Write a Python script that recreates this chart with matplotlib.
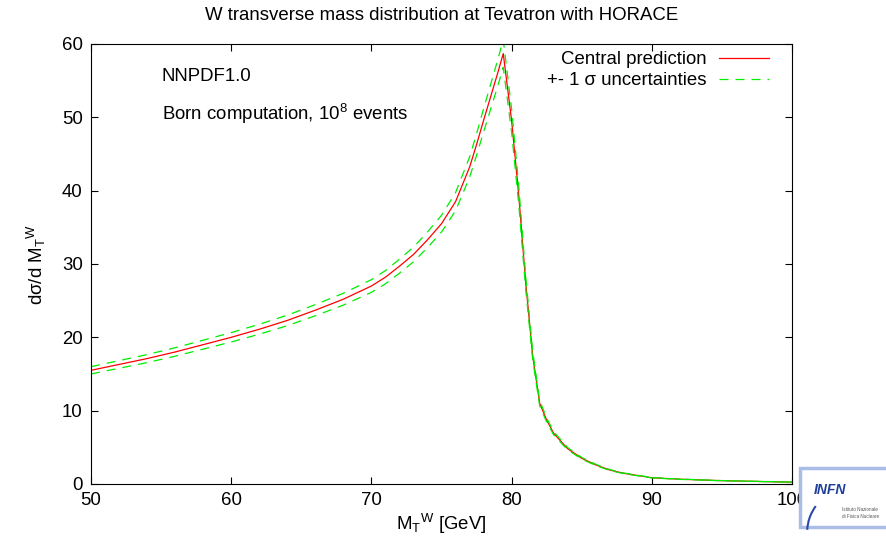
import matplotlib
matplotlib.use("Agg")
import matplotlib.pyplot as plt
from matplotlib.patches import Rectangle, Arc
import numpy as np

plt.rcParams['font.family'] = ['Liberation Sans', 'DejaVu Sans']
plt.rcParams['mathtext.fontset'] = 'custom'
plt.rcParams['mathtext.rm'] = 'Liberation Sans'
plt.rcParams['mathtext.it'] = 'Liberation Sans'

FS = 13.4

# W transverse mass [GeV] and central prediction d sigma / d MT
mt = [50, 52, 54, 56, 58, 60, 62, 64, 66, 68, 70, 71, 72, 73, 74, 75, 76,
      77, 77.5, 78, 78.5, 79, 79.4, 80, 80.5, 81, 81.5, 82, 82.5, 83, 84,
      85, 86, 87, 88, 90, 92, 95, 100]
central = [15.5, 16.3, 17.1, 18.0, 19.0, 20.0, 21.1, 22.3, 23.7, 25.2, 27.0,
           28.2, 29.7, 31.3, 33.3, 35.5, 38.5, 43.2, 46.3, 49.6, 52.8, 56.0,
           58.7, 49.5, 39.5, 27.5, 17.5, 11.0, 8.7, 6.9, 4.8, 3.5, 2.6, 1.9,
           1.45, 0.85, 0.65, 0.45, 0.25]
# relative 1 sigma uncertainty
rel_err = [0.032] * len(mt)

mt = np.array(mt)
central = np.array(central)
upper = central * (1 + np.array(rel_err))
lower = central * (1 - np.array(rel_err))

fig = plt.figure(figsize=(8.87, 5.43), dpi=100)
ax = fig.add_axes([0.1026, 0.1087, 0.7904, 0.8103])

ax.plot(mt, central, color='red', lw=0.9, label='Central prediction')
ax.plot(mt, upper, color='#00ee00', lw=0.9, dashes=(7.2, 5.6),
        label='+- 1 σ uncertainties')
ax.plot(mt, lower, color='#00ee00', lw=0.9, dashes=(7.2, 5.6))

ax.set_xlim(50, 100)
ax.set_ylim(0, 60)
ax.set_xticks([50, 60, 70, 80, 90, 100])
ax.set_yticks([0, 10, 20, 30, 40, 50, 60])
ax.tick_params(direction='in', top=True, right=True, length=5,
               labelsize=FS, pad=6)

ax.set_title('W transverse mass distribution at Tevatron with HORACE',
             fontsize=FS, pad=17)
ax.set_xlabel('M$_{T}{}^{W}$ [GeV]', fontsize=FS, labelpad=2)
ax.set_ylabel('dσ/d M$_{T}{}^{W}$', fontsize=FS, labelpad=10)

ax.text(0.101, 0.925, 'NNPDF1.0', transform=ax.transAxes, fontsize=FS,
        va='center')
ax.text(0.101, 0.84, 'Born computation, 10$^{8}$ events',
        transform=ax.transAxes, fontsize=FS, va='center')

ax.legend(loc='upper right', frameon=False, markerfirst=False, fontsize=FS,
          handlelength=2.7, handletextpad=0.65, labelspacing=0.2,
          borderaxespad=0, bbox_to_anchor=(0.978, 1.0))

# INFN logo
fig.patches.append(Rectangle((0.902, 0.03), 0.1, 0.108,
                             transform=fig.transFigure, facecolor='white',
                             edgecolor='#a9bde6', lw=2.5, zorder=5))
fig.patches.append(Arc((0.96, 0.02), 0.1, 0.162, theta1=130, theta2=175,
                       transform=fig.transFigure, color='#2a4aa8', lw=1.5,
                       zorder=6))
fig.text(0.917, 0.098, 'INFN', fontsize=10, fontweight='bold',
         style='italic', color='#1f3f9a', va='center', zorder=7)
fig.text(0.949, 0.062, 'Istituto Nazionale', fontsize=3.3, color='#555555',
         va='center', zorder=7)
fig.text(0.949, 0.048, 'di Fisica Nucleare', fontsize=3.3, color='#555555',
         va='center', zorder=7)

plt.savefig('out.png', dpi=100)
